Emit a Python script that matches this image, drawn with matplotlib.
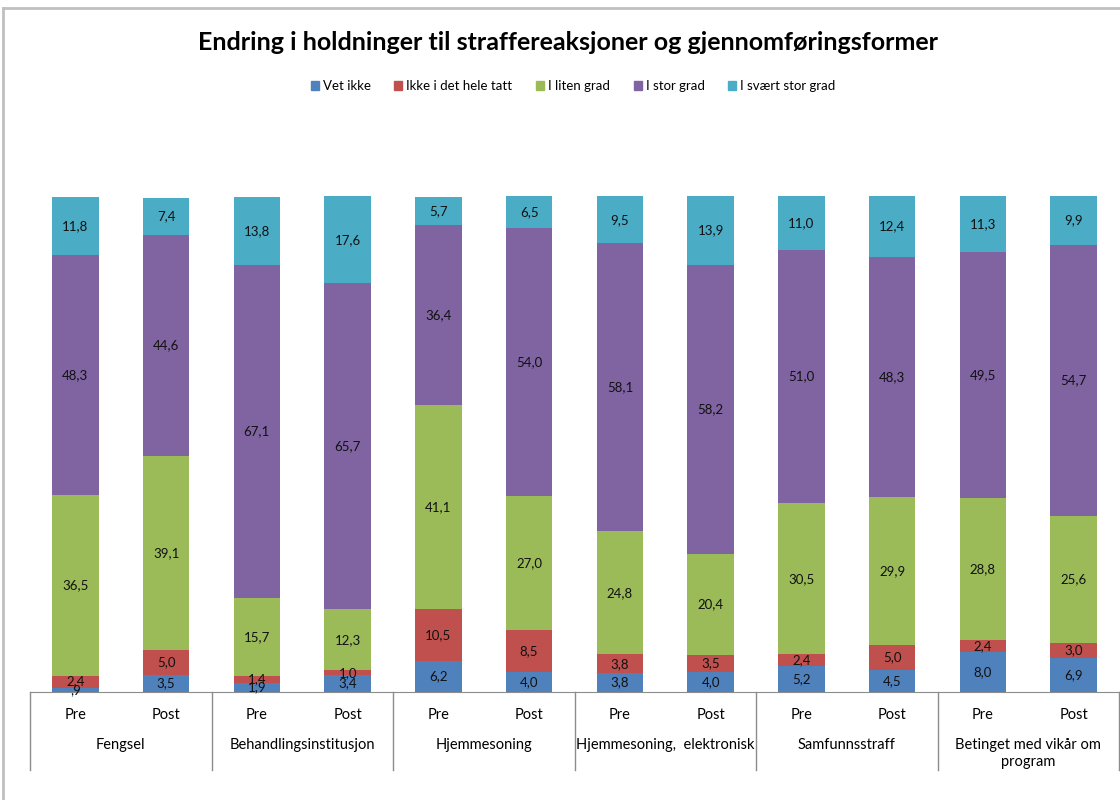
import numpy as np
import matplotlib.pyplot as plt
from matplotlib.patches import Patch

groups = ["Fengsel", "Behandlingsinstitusjon", "Hjemmesoning",
          "Hjemmesoning,  elektronisk", "Samfunnsstraff", "Betinget med vikår om\nprogram"]
periods = ["Pre", "Post"]

series_names = ["Vet ikke", "Ikke i det hele tatt", "I liten grad", "I stor grad", "I svært stor grad"]
vet_ikke = [0.9, 3.5, 1.9, 3.4, 6.2, 4.0, 3.8, 4.0, 5.2, 4.5, 8.0, 6.9]
ikke_i_det_hele = [2.4, 5.0, 1.4, 1.0, 10.5, 8.5, 3.8, 3.5, 2.4, 5.0, 2.4, 3.0]
liten_grad = [36.5, 39.1, 15.7, 12.3, 41.1, 27.0, 24.8, 20.4, 30.5, 29.9, 28.8, 25.6]
stor_grad = [48.3, 44.6, 67.1, 65.7, 36.4, 54.0, 58.1, 58.2, 51.0, 48.3, 49.5, 54.7]
svaert_stor_grad = [11.8, 7.4, 13.8, 17.6, 5.7, 6.5, 9.5, 13.9, 11.0, 12.4, 11.3, 9.9]

colors = ["#4F81BD", "#C0504D", "#9BBB59", "#8064A2", "#4BACC6"]


def fmt(v):
    s = f"{v:.1f}".replace(".", ",")
    if s.startswith("0,"):
        s = s[1:]
    return s


def main():
    plt.rcParams["font.family"] = ["Lato", "DejaVu Sans"]
    fig = plt.figure(figsize=(11.2, 8), dpi=100)
    ax = fig.add_axes([30 / 1120, 108 / 800, 1089 / 1120, 595 / 800])

    data = [vet_ikke, ikke_i_det_hele, liten_grad, stor_grad, svaert_stor_grad]
    x = np.arange(len(vet_ikke))
    bottom = np.zeros(len(x))
    for vals, col in zip(data, colors):
        vals = np.array(vals)
        ax.bar(x, vals, 0.51, bottom=bottom, color=col, edgecolor="none")
        for xi, b, v in zip(x, bottom, vals):
            ax.text(xi, b + v / 2, fmt(v), ha="center", va="center", fontsize=9.5, color="#111111")
        bottom += vals

    ax.set_xlim(-0.5, len(x) - 0.5)
    ax.set_ylim(0, 120)
    ax.set_yticks([])
    ax.set_xticks([])
    for side in ["left", "right", "top"]:
        ax.spines[side].set_visible(False)
    ax.spines["bottom"].set_color("#8c8c8c")

    # two-level category axis
    for i in range(len(x)):
        ax.text(x[i], -23 / 595, periods[i % 2], transform=ax.get_xaxis_transform(),
                ha="center", va="center", fontsize=10.5)
    for g, name in enumerate(groups):
        ax.text(2 * g + 0.5, -46 / 595, name, transform=ax.get_xaxis_transform(),
                ha="center", va="top", fontsize=10.5, linespacing=1.3)
    for g in range(len(groups) + 1):
        ax.plot([2 * g - 0.5, 2 * g - 0.5], [0, -78 / 595], transform=ax.get_xaxis_transform(),
                color="#8c8c8c", lw=1, clip_on=False)

    handles = [Patch(color=c, label=n) for c, n in zip(colors, series_names)]
    fig.legend(handles=handles, loc="center", bbox_to_anchor=(573 / 1120, 1 - 86 / 800), ncol=5,
               frameon=False, fontsize=9.5, handlelength=0.6, handleheight=0.6,
               handletextpad=0.3, columnspacing=1.8)

    fig.text(568 / 1120, 1 - 43 / 800, "Endring i holdninger til straffereaksjoner og gjennomføringsformer",
             ha="center", va="center", fontsize=18, fontweight="bold")

    # chart border (top and left visible)
    fig.add_artist(plt.Line2D([3 / 1120, 1], [1 - 8 / 800, 1 - 8 / 800], transform=fig.transFigure,
                              color="#c0c0c0", lw=2))
    fig.add_artist(plt.Line2D([3 / 1120, 3 / 1120], [0, 1 - 8 / 800], transform=fig.transFigure,
                              color="#c0c0c0", lw=2))

    fig.savefig("out.png", dpi=100)


if __name__ == "__main__":
    main()
